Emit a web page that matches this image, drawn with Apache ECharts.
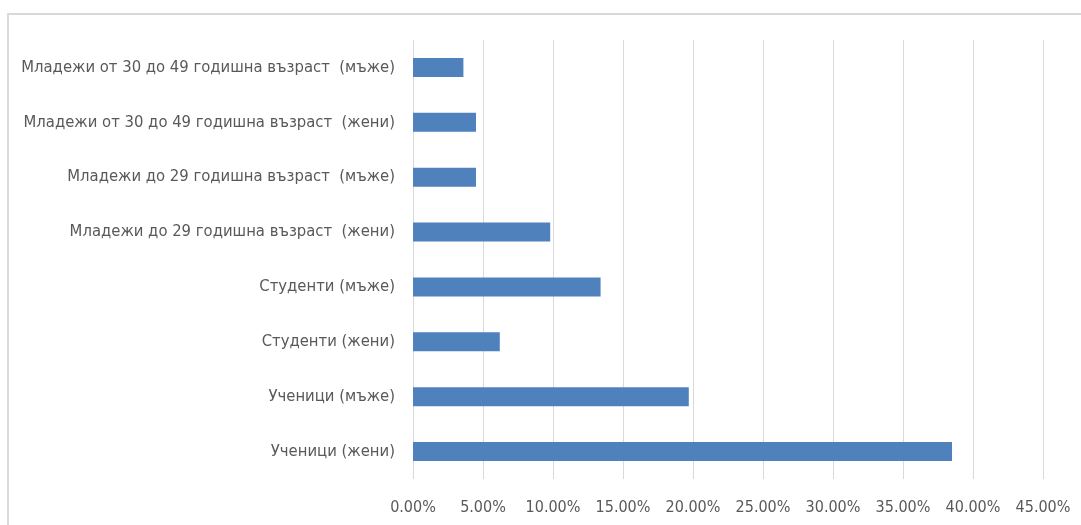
<!DOCTYPE html>
<html>
<head>
<meta charset="utf-8">
<script src="https://cdn.jsdelivr.net/npm/echarts@6/dist/echarts.min.js"></script>
<style>
  html, body { margin: 0; padding: 0; background: #fff; }
  #chart { width: 1081px; height: 525px; }
</style>
</head>
<body>
<div id="chart"></div>
<script>
// Categories listed top to bottom
const categories = [
  'Младежи от 30 до 49 годишна възраст  (мъже)',
  'Младежи от 30 до 49 годишна възраст  (жени)',
  'Младежи до 29 годишна възраст  (мъже)',
  'Младежи до 29 годишна възраст  (жени)',
  'Студенти (мъже)',
  'Студенти (жени)',
  'Ученици (мъже)',
  'Ученици (жени)'
];
// Share of each group, in percent
const shares = [3.6, 4.5, 4.5, 9.8, 13.4, 6.2, 19.7, 38.5];
const axisMin = 0;
const axisMax = 45;
const axisStep = 5;

const FONT = "'Liberation Sans Narrow', 'DejaVu Sans Condensed', 'Noto Sans', sans-serif";
const chart = echarts.init(document.getElementById('chart'), null, { renderer: 'canvas' });
chart.setOption({
  animation: false,
  backgroundColor: '#ffffff',
  graphic: [{
    type: 'rect',
    shape: { x: 8, y: 14, width: 1200, height: 700 },
    style: { fill: 'none', stroke: '#d9d9d9', lineWidth: 2 },
    silent: true
  }],
  grid: { left: 413, right: 38, top: 40, bottom: 46, containLabel: false },
  xAxis: {
    type: 'value',
    min: axisMin, max: axisMax, interval: axisStep,
    axisLine: { show: false },
    axisTick: { show: false },
    splitLine: { show: true, lineStyle: { color: '#d9d9d9', width: 1 } },
    axisLabel: {
      color: '#595959', fontFamily: FONT, fontSize: 16, margin: 21,
      formatter: v => v.toFixed(2) + '%'
    }
  },
  yAxis: {
    type: 'category',
    data: categories,
    inverse: true,
    axisLine: { show: false },
    axisTick: { show: false },
    axisLabel: { color: '#595959', fontFamily: FONT, fontSize: 16.5, margin: 18 }
  },
  series: [{
    type: 'bar',
    data: shares,
    barWidth: 19,
    itemStyle: { color: '#4f81bd' }
  }]
});
</script>
</body>
</html>
